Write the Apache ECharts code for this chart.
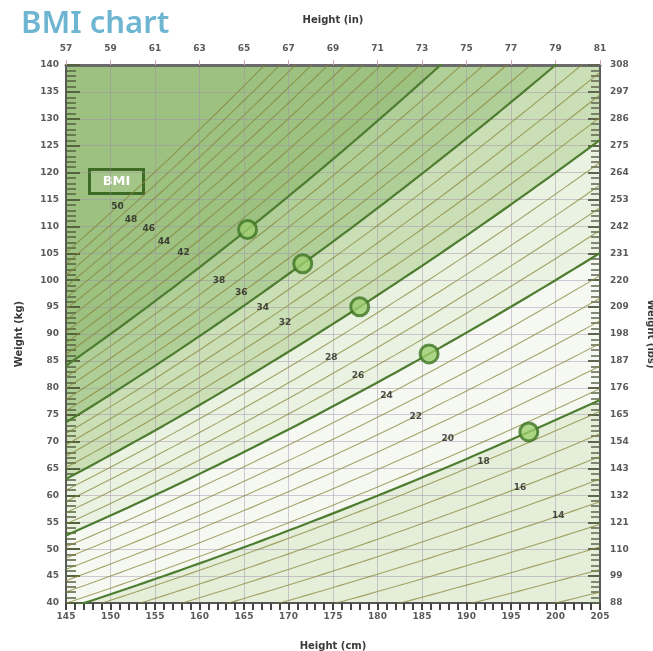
<!DOCTYPE html>
<html><head><meta charset="utf-8">
<script src="https://cdn.jsdelivr.net/npm/echarts@6/dist/echarts.min.js"></script>
<style>html,body{margin:0;padding:0;background:#fff}#c{width:653px;height:651px}</style>
</head><body><div id="c"></div>
<script>
// ---- data ----
const inchTicks = [57, 59, 61, 63, 65, 67, 69, 71, 73, 75, 77, 79, 81];
const cmMin = 145, cmMax = 205, cmStep = 5;
const kgMin = 40, kgMax = 140, kgStep = 5;
const lbMin = 88, lbMax = 308, lbStep = 11;
const zoneBmi = [40, 35, 30, 25, 18.5];
const thinBmi = [10,11,12,13,14,15,16,17,18,19,20,21,22,23,24,25,26,27,28,29,30,31,32,33,34,35,36,37,38,39,40,41,42,43,44,45,46,47,48,49,50];
const labelBmi = [50, 48, 46, 44, 42, 38, 36, 34, 32, 28, 26, 24, 22, 20, 18, 16, 14];
const labelHeight = [150.8, 152.3, 154.3, 156.0, 158.2, 162.2, 164.7, 167.1, 169.6, 174.8, 177.8, 181.0, 184.3, 187.9, 191.9, 196.0, 200.3];
const markerBmi = [40, 35, 30, 25, 18.5];
const markerHeight = [165.4, 171.6, 178.0, 185.8, 197.0];

// ---- styles ----
const baseFill = '#9cc181';
const zoneFills = ['#b0ce97', '#cadfb5', '#eaf2e1', '#f6f9f2', '#e4eed8'];

function curve(bmi) {
  const pts = [];
  for (let h = cmMin; h <= cmMax; h += 1) pts.push([h, +(bmi * (h / 100) * (h / 100)).toFixed(3)]);
  return pts;
}

const series = [];
zoneBmi.forEach((b, i) => {
  series.push({
    type: 'line', data: curve(b), symbol: 'none', silent: true, z: 1,
    lineStyle: { width: 0 }, areaStyle: { color: zoneFills[i], opacity: 1, origin: 'start' }
  });
});
thinBmi.forEach(b => {
  series.push({
    type: 'line', data: curve(b), symbol: 'none', silent: true, z: 4,
    lineStyle: { width: 1.1, color: 'rgba(135,132,55,0.72)' }
  });
});
zoneBmi.forEach(b => {
  series.push({
    type: 'line', data: curve(b), symbol: 'none', silent: true, z: 5,
    lineStyle: { width: 2.2, color: '#4e7d31' }
  });
});
series.push({
  type: 'scatter', z: 8, symbolSize: 0,
  data: labelBmi.map((b, i) => [labelHeight[i], b * Math.pow(labelHeight[i] / 100, 2), b]),
  label: { show: true, position: 'inside', formatter: p => p.data[2], fontSize: 9, fontWeight: 'bold', color: '#222222', fontFamily: 'DejaVu Sans' }
});
series.push({
  type: 'scatter', z: 9, symbol: 'circle', symbolSize: 18,
  data: markerBmi.map((b, i) => [markerHeight[i], b * Math.pow(markerHeight[i] / 100, 2)]),
  itemStyle: { color: '#9ccd6e', borderColor: '#3d7424', borderWidth: 3 }
});

const labelStyle = { fontSize: 9, fontWeight: 'bold', color: '#5a5a5a', fontFamily: 'DejaVu Sans' };
const nameStyle = { fontSize: 10, fontWeight: 'bold', color: '#3a3a3a', fontFamily: 'DejaVu Sans' };

const option = {
  animation: false,
  backgroundColor: '#ffffff',
  title: { text: 'BMI chart', left: 16, top: 4, textStyle: { color: '#6db5d1', fontSize: 31, fontWeight: 600, fontFamily: 'Noto Sans' } },
  grid: { left: 66, right: 53, top: 65, bottom: 48, outerBoundsMode: 'none', containLabel: false, show: true, backgroundColor: baseFill, borderColor: '#6a6a6a', borderWidth: 2 },
  xAxis: [
    { type: 'value', position: 'bottom', min: cmMin, max: cmMax, interval: cmStep, z: 3,
      name: 'Height (cm)', nameLocation: 'middle', nameGap: 38, nameTextStyle: nameStyle,
      axisLine: { show: true, lineStyle: { color: '#555', width: 2 } },
      axisTick: { show: true, inside: false, length: 7, lineStyle: { color: '#444', width: 2 } },
      minorTick: { show: true, splitNumber: 5, length: 7, lineStyle: { color: '#444', width: 2 } },
      axisLabel: Object.assign({ margin: 9 }, labelStyle),
      splitLine: { show: true, lineStyle: { color: 'rgba(160,140,170,0.45)', width: 1 } } },
    { type: 'category', position: 'top', data: inchTicks, boundaryGap: false, z: 3,
      name: 'Height (in)', nameLocation: 'middle', nameGap: 40, nameTextStyle: nameStyle,
      axisLine: { show: true, lineStyle: { color: '#6a6a6a', width: 3 } },
      axisTick: { show: true, length: 5, alignWithLabel: true, lineStyle: { color: '#d4a6a6', width: 1 } },
      axisLabel: Object.assign({ margin: 12, interval: 0 }, labelStyle),
      splitLine: { show: false } }
  ],
  yAxis: [
    { type: 'value', position: 'left', min: kgMin, max: kgMax, interval: kgStep, z: 3,
      name: 'Weight (kg)', nameLocation: 'middle', nameGap: 42, nameTextStyle: nameStyle,
      axisLine: { show: true, lineStyle: { color: '#5a5a5a', width: 2 } },
      axisTick: { show: true, inside: true, length: 14, lineStyle: { color: '#55623f', width: 2 } },
      minorTick: { show: true, splitNumber: 5, length: 10, lineStyle: { color: '#55623f', width: 1.5 } },
      axisLabel: Object.assign({ margin: 7 }, labelStyle),
      splitLine: { show: true, lineStyle: { color: 'rgba(160,140,170,0.45)', width: 1 } } },
    { type: 'value', position: 'right', min: lbMin, max: lbMax, interval: lbStep, z: 3,
      name: 'Weight (lbs)', nameLocation: 'middle', nameGap: 46, nameRotate: -90, nameTextStyle: nameStyle,
      axisLine: { show: true, lineStyle: { color: '#5a5a5a', width: 2 } },
      axisTick: { show: true, inside: true, length: 12, lineStyle: { color: '#5f6450', width: 2 } },
      minorTick: { show: true, splitNumber: 5, length: 9, lineStyle: { color: '#5f6450', width: 1.5 } },
      axisLabel: Object.assign({ margin: 10 }, labelStyle),
      splitLine: { show: false } }
  ],
  graphic: [
    { type: 'group', left: 88, top: 168, z: 20, children: [
      { type: 'rect', shape: { x: 0, y: 0, width: 54, height: 24 }, style: { fill: '#a3c688', stroke: '#3d6b25', lineWidth: 3 } },
      { type: 'text', style: { x: 27, y: 12, text: 'BMI', fill: '#ffffff', fontSize: 13, fontWeight: 'bold', fontFamily: 'DejaVu Sans', align: 'center', verticalAlign: 'middle' } }
    ] }
  ],
  series: series
};
const chart = echarts.init(document.getElementById('c'));
chart.setOption(option);
</script></body></html>
